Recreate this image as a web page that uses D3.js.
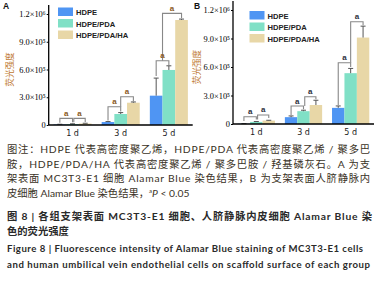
<!DOCTYPE html>
<html>
<head>
<meta charset="utf-8">
<script src="https://cdn.jsdelivr.net/npm/d3@7"></script>
<style>
  body { margin: 0; background: #fff; }
  svg { display: block; }
</style>
</head>
<body>
<div id="fig"></div>
<script>
// categories, groups, ticks
const cats = ["1 d", "3 d", "5 d"];
const groups = ["HDPE", "HDPE/PDA", "HDPE/PDA/HA"];
const yTicks = [0, 3e5, 6e5, 9e5, 1.2e6];
const yTickLabels = ["0", "3.0×10⁵", "6.0×10⁵", "9.0×10⁵", "1.2×10⁶"];

// panel A: MC3T3-E1
const hdpeA = [6e3, 3.2e4, 3.17e5];
const pdaA = [1.0e4, 1.19e5, 5.95e5];
const haA = [1.6e4, 2.41e5, 1.135e6];
const hdpeErrA = [2e3, 5e3, 1.9e5];
const pdaErrA = [3e3, 1.5e4, 4.5e4];
const haErrA = [3e3, 8e3, 1e4];
// brackets: category, bar index from/to, top value, left/right leg ends
const bracketsA = [
  { cat: 0, from: 0, to: 1, top: 7.2e4, l: 2.5e4, r: 3.0e4 },
  { cat: 0, from: 1.1, to: 2, top: 7.2e4, l: 3.0e4, r: 3.2e4 },
  { cat: 1, from: 0, to: 1, top: 1.98e5, l: 4.8e4, r: 1.45e5 },
  { cat: 1, from: 1, to: 2, top: 3.06e5, l: 1.98e5, r: 2.55e5 },
  { cat: 2, from: 0, to: 1, top: 6.95e5, l: 5.3e5, r: 6.5e5 },
  { cat: 2, from: 0.5, to: 2, top: 1.207e6, l: 6.95e5, r: 1.155e6 }
];

// panel B: HUVEC
const hdpeB = [3e3, 7.2e4, 1.7e5];
const pdaB = [2.2e4, 1.35e5, 5.35e5];
const haB = [3.6e4, 2.0e5, 9.1e5];
const hdpeErrB = [1e3, 1.3e4, 2e4];
const pdaErrB = [4e3, 1e4, 5e4];
const haErrB = [3e3, 5e4, 1.2e5];
const bracketsB = [
  { cat: 0, from: 0, to: 1, top: 7.7e4, l: 3.2e4, r: 4.8e4 },
  { cat: 0, from: 1.1, to: 2, top: 9.5e4, l: 4.8e4, r: 6.2e4 },
  { cat: 1, from: 0, to: 1, top: 1.89e5, l: 9.5e4, r: 1.55e5 },
  { cat: 1, from: 1.1, to: 2, top: 2.87e5, l: 1.89e5, r: 2.6e5 },
  { cat: 2, from: 0, to: 1, top: 6.45e5, l: 2.0e5, r: 6.0e5 },
  { cat: 2, from: 1, to: 2, top: 1.077e6, l: 6.45e5, r: 1.04e6 }
];

const colors = ["#4f95f3", "#80e0c6", "#e8d7a7"];

const captionLines = [
  "图注：HDPE 代表高密度聚乙烯，HDPE/PDA 代表高密度聚乙烯 / 聚多巴",
  "胺，HDPE/PDA/HA 代表高密度聚乙烯 / 聚多巴胺 / 羟基磷灰石。A 为支",
  "架表面 MC3T3-E1 细胞 Alamar Blue 染色结果，B 为支架表面人脐静脉内",
  "皮细胞 Alamar Blue 染色结果，"
];
const titleLines = [
  "图 8  |  各组支架表面 MC3T3-E1 细胞、人脐静脉内皮细胞 Alamar Blue 染",
  "色的荧光强度"
];
const titleEn = [
  "Figure 8  |  Fluorescence intensity of Alamar Blue staining of MC3T3-E1 cells",
  "and human umbilical vein endothelial cells on scaffold surface of each group"
];

const W = 383, H = 281;
const svg = d3.select("#fig").append("svg")
  .attr("width", W).attr("height", H);

function panel(opt) {
  const g = svg.append("g");
  const x = d3.scaleBand().domain(cats)
    .range([opt.left, opt.right])
    .paddingInner(0.21).paddingOuter(0.1);
  const xs = d3.scaleBand().domain(d3.range(3)).range([0, x.bandwidth()]);
  const y = d3.scaleLinear().domain([0, 1.2e6]).range([opt.bottom, opt.top]);
  const series = [opt.s0, opt.s1, opt.s2];
  const errs = [opt.e0, opt.e1, opt.e2];

  const rows = [];
  series.forEach((s, i) => s.forEach((v, c) => rows.push({ i, c, v, e: errs[i][c] })));
  const bx = (c, i) => x(cats[c]) + xs.bandwidth() * (i + 0.5);

  // bars
  g.selectAll("rect.bar").data(rows).enter().append("rect")
    .attr("class", "bar")
    .attr("x", d => x(cats[d.c]) + xs(d.i))
    .attr("width", xs.bandwidth())
    .attr("y", d => y(d.v))
    .attr("height", d => y(0) - y(d.v))
    .attr("fill", d => colors[d.i]);

  // error bars
  const eg = g.selectAll("g.err").data(rows).enter().append("g")
    .attr("stroke", "#555").attr("stroke-width", 1);
  eg.append("line")
    .attr("x1", d => bx(d.c, d.i)).attr("x2", d => bx(d.c, d.i))
    .attr("y1", d => y(d.v)).attr("y2", d => y(d.v + d.e));
  eg.append("line")
    .attr("x1", d => bx(d.c, d.i) - 2.5).attr("x2", d => bx(d.c, d.i) + 2.5)
    .attr("y1", d => y(d.v + d.e)).attr("y2", d => y(d.v + d.e));

  // significance brackets
  g.selectAll("path.br").data(opt.brackets).enter().append("path")
    .attr("fill", "none").attr("stroke", "#888").attr("stroke-width", 1.1)
    .attr("d", d => {
      const x1 = bx(d.cat, d.from), x2 = bx(d.cat, d.to);
      return `M${x1},${y(d.l)}V${y(d.top)}H${x2}V${y(d.r)}`;
    });
  g.selectAll("text.sig").data(opt.brackets).enter().append("text")
    .attr("x", d => (bx(d.cat, d.from) + bx(d.cat, d.to)) / 2)
    .attr("y", d => y(d.top) - 2.5)
    .attr("text-anchor", "middle")
    .attr("font-family", "Liberation Sans, Arial, sans-serif")
    .attr("font-weight", "bold").attr("font-size", 8)
    .attr("fill", opt.sigColor)
    .text("a");

  // y axis
  const yAxis = d3.axisLeft(y).tickValues(yTicks)
    .tickFormat((d, i) => yTickLabels[i]).tickSize(2).tickPadding(1);
  const ya = g.append("g").attr("transform", `translate(${opt.left},0)`).call(yAxis);
  ya.select(".domain").remove();
  ya.selectAll("line").attr("stroke", "#000");
  ya.selectAll("text")
    .attr("font-family", "Liberation Serif, Times New Roman, serif")
    .attr("font-size", 8.4).attr("fill", "#000");
  g.append("line")
    .attr("x1", opt.left).attr("x2", opt.left)
    .attr("y1", opt.top - 9).attr("y2", opt.bottom)
    .attr("stroke", "#000").attr("stroke-width", 1.3);
  g.append("line")
    .attr("x1", opt.left).attr("x2", opt.right)
    .attr("y1", opt.bottom).attr("y2", opt.bottom)
    .attr("stroke", "#000").attr("stroke-width", 1.3);

  // x labels
  g.selectAll("text.xl").data(cats).enter().append("text")
    .attr("x", d => x(d) + x.bandwidth() / 2)
    .attr("y", opt.bottom + 10.5)
    .attr("text-anchor", "middle")
    .attr("font-family", "DejaVu Sans, sans-serif")
    .attr("font-size", 8).attr("fill", "#222")
    .text(d => d);

  // y title
  g.append("text")
    .attr("transform", `translate(${opt.titleX},${(opt.top + opt.bottom) / 2}) rotate(-90)`)
    .attr("text-anchor", "middle").attr("dy", "0.35em")
    .attr("font-family", "Noto Sans CJK SC, sans-serif")
    .attr("font-size", 8.6).attr("fill", "#c07a32")
    .text("荧光强度");

  // panel letter
  g.append("text")
    .attr("x", opt.letterX).attr("y", 9)
    .attr("font-family", "Liberation Sans, Arial, sans-serif")
    .attr("font-weight", "bold").attr("font-size", 8.5).attr("fill", "#111")
    .text(opt.letter);

  // legend
  const lg = g.selectAll("g.leg").data(groups).enter().append("g")
    .attr("transform", (d, i) => `translate(${opt.legX},${opt.legY + i * 11.5})`);
  lg.append("rect").attr("width", 15).attr("height", 8.5)
    .attr("fill", (d, i) => colors[i]);
  lg.append("text").attr("x", 18).attr("y", 7.5)
    .attr("font-family", "Liberation Sans, Arial, sans-serif")
    .attr("font-weight", "bold").attr("font-size", 7.6).attr("fill", "#222")
    .text(d => d);
}

panel({
  letter: "A", letterX: 3, left: 48.7, right: 192.7, top: 14, bottom: 125,
  s0: hdpeA, s1: pdaA, s2: haA, e0: hdpeErrA, e1: pdaErrA, e2: haErrA,
  brackets: bracketsA, sigColor: "#8a5a1c", titleX: 10, legX: 58, legY: 7.5
});
panel({
  letter: "B", letterX: 194, left: 233, right: 374, top: 10, bottom: 124,
  s0: hdpeB, s1: pdaB, s2: haB, e0: hdpeErrB, e1: pdaErrB, e2: haErrB,
  brackets: bracketsB, sigColor: "#2e3140", titleX: 197, legX: 249.5, legY: 11
});

// captions
const capFont = "Lato, Noto Sans CJK SC, sans-serif";
captionLines.forEach((t, i) => {
  const tx = svg.append("text")
    .attr("x", 7).attr("y", 153 + i * 14.5)
    .attr("font-family", capFont).attr("font-size", 10.3)
    .attr("fill", "#3a3226")
    .text(t);
  if (i < 3) tx.attr("textLength", 363).attr("lengthAdjust", "spacing");
  if (i === 3) {
    tx.append("tspan").attr("font-size", 6).attr("dy", -4).text("a");
    tx.append("tspan").attr("font-style", "italic").attr("dy", 4).text("P");
    tx.append("tspan").text(" < 0.05");
  }
});
titleLines.forEach((t, i) => {
  const tx = svg.append("text")
    .attr("x", 7).attr("y", 220 + i * 14.5)
    .attr("font-family", capFont).attr("font-size", 10.3)
    .attr("font-weight", "bold").attr("fill", "#2a2a2a")
    .text(t);
  if (i === 0) tx.attr("textLength", 365).attr("lengthAdjust", "spacing");
});
titleEn.forEach((t, i) => {
  const tx = svg.append("text")
    .attr("x", 7).attr("y", 252 + i * 16)
    .attr("font-family", capFont).attr("font-size", 9.6)
    .attr("font-weight", "bold").attr("fill", "#2a2a2a")
    .text(t);
  tx.attr("textLength", i === 0 ? 356 : 363).attr("lengthAdjust", "spacing");
});
</script>
</body>
</html>
